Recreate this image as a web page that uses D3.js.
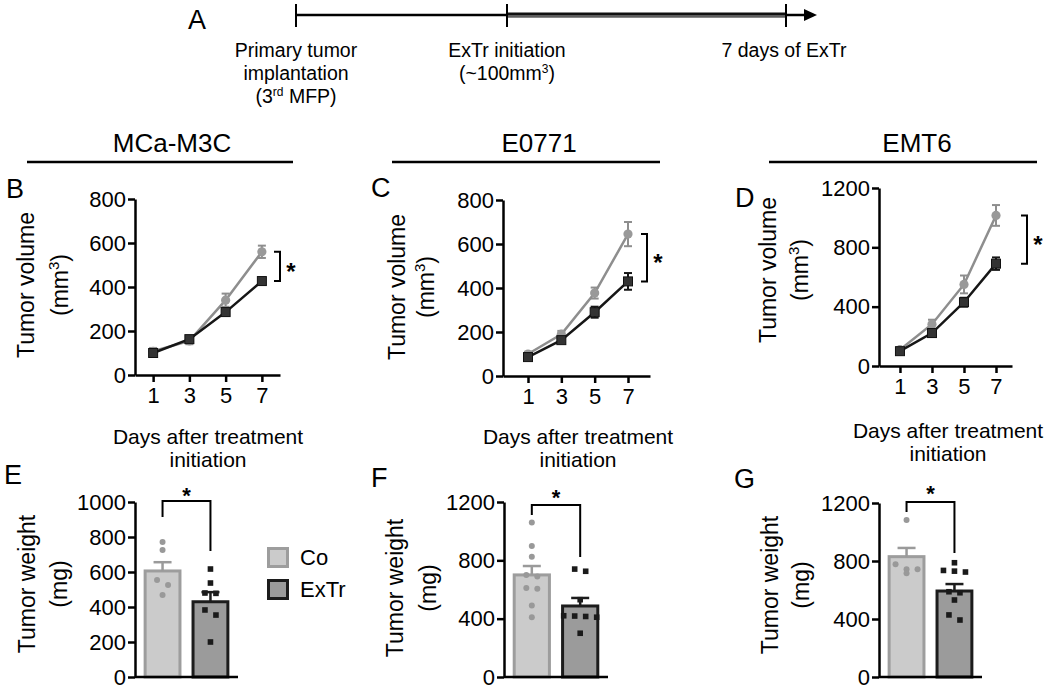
<!DOCTYPE html>
<html><head><meta charset="utf-8">
<script src="https://cdn.jsdelivr.net/npm/d3@7"></script>
<style>
body{margin:0;background:#fff}
svg{display:block;font-family:"Liberation Sans",Arial,sans-serif}
</style></head><body>
<svg id="fig" width="1050" height="691"></svg>
<script>
// ---------------- DATA ----------------
const days = [1, 3, 5, 7];
const groups = ["Co", "ExTr"];

const m3cCoMean = [108, 155, 340, 560];
const m3cCoSem  = [15, 15, 30, 28];
const m3cExMean = [100, 163, 286, 427];
const m3cExSem  = [8, 10, 15, 15];

const e0771CoMean = [100, 190, 377, 645];
const e0771CoSem  = [10, 15, 25, 55];
const e0771ExMean = [86, 163, 290, 430];
const e0771ExSem  = [8, 12, 25, 38];

const emt6CoMean = [110, 282, 550, 1015];
const emt6CoSem  = [15, 30, 60, 70];
const emt6ExMean = [100, 222, 430, 690];
const emt6ExSem  = [12, 25, 30, 42];

const m3cWeightMean = [606, 430];
const m3cWeightSem  = [50, 55];
const m3cCoPts = [771, 726, 554, 526, 469];
const m3cExPts = [617, 537, 480, 478, 383, 354, 200];

const e0771WeightMean = [700, 487];
const e0771WeightSem  = [61, 55];
const e0771CoPts = [1060, 898, 825, 700, 690, 610, 605, 490, 410];
const e0771ExPts = [740, 725, 530, 420, 418, 415, 410, 300];

const emt6WeightMean = [830, 593];
const emt6WeightSem  = [60, 48];
const emt6CoPts = [1083, 777, 743, 743, 715];
const emt6ExPts = [788, 735, 730, 724, 588, 581, 531, 428, 393];

const volTicks800  = [0, 200, 400, 600, 800];
const volTicks1200 = [0, 400, 800, 1200];
const wTicks1000   = [0, 200, 400, 600, 800, 1000];
const wTicks1200   = [0, 400, 800, 1200];

const cellLines = ["MCa-M3C", "E0771", "EMT6"];

// ---------------- DRAW ----------------
const FONT = '"Liberation Sans", Arial, sans-serif';
const svg = d3.select('#fig');
const GRAY = '#8e8e8e', BLACK = '#161616';

function txt(x, y, s, size, opts = {}) {
  return svg.append('text').attr('x', x).attr('y', y).text(s)
    .attr('font-size', size).attr('font-family', FONT)
    .attr('text-anchor', opts.anchor || 'middle')
    .attr('font-weight', opts.weight || 'normal').attr('fill', '#000');
}

// ---- Panel A: timeline ----
txt(188, 29, 'A', 27, {anchor: 'start'});
svg.append('line').attr('x1', 296).attr('x2', 507).attr('y1', 15).attr('y2', 15)
  .attr('stroke', '#000').attr('stroke-width', 2.5);
svg.append('line').attr('x1', 507).attr('x2', 786).attr('y1', 15).attr('y2', 15)
  .attr('stroke', '#111').attr('stroke-width', 5);
svg.append('line').attr('x1', 507).attr('x2', 786).attr('y1', 16).attr('y2', 16)
  .attr('stroke', '#777').attr('stroke-width', 1.5);
svg.append('line').attr('x1', 786).attr('x2', 806).attr('y1', 15).attr('y2', 15)
  .attr('stroke', '#000').attr('stroke-width', 2.5);
svg.append('path').attr('d', 'M804,9 L817,15 L804,21 Z').attr('fill', '#000');
[296, 507, 786].forEach(x => svg.append('line').attr('x1', x).attr('x2', x)
  .attr('y1', 4).attr('y2', 27).attr('stroke', '#000').attr('stroke-width', 2));
txt(296, 57, 'Primary tumor', 19.5);
txt(296, 80, 'implantation', 19.5);
{
  const t = txt(296, 103, '(3', 19.5);
  t.append('tspan').attr('dy', -7).attr('font-size', 12).text('rd');
  t.append('tspan').attr('dy', 7).text(' MFP)');
}
txt(507, 57, 'ExTr initiation', 19.5);
{
  const t = txt(507, 80, '(~100mm', 19.5);
  t.append('tspan').attr('dy', -7).attr('font-size', 12).text('3');
  t.append('tspan').attr('dy', 7).text(')');
}
txt(784, 57, '7 days of ExTr', 19.5);

// ---- Cell line titles ----
const titleLayout = [
  {cx: 172, l0: 27, l1: 293},
  {cx: 539, l0: 392, l1: 660},
  {cx: 917, l0: 769, l1: 1037}
];
cellLines.forEach((name, i) => {
  const L = titleLayout[i];
  txt(L.cx, 152, name, 26);
  svg.append('line').attr('x1', L.l0).attr('x2', L.l1).attr('y1', 162).attr('y2', 162)
    .attr('stroke', '#000').attr('stroke-width', 2.5);
});

function styleAxis(g) {
  g.attr('font-family', FONT).attr('font-size', 22);
  g.selectAll('path, line').attr('stroke', '#000').attr('stroke-width', 2.5);
  g.selectAll('text').attr('fill', '#000').attr('font-size', 22).attr('font-family', FONT);
}

function yTitle(xb1, xb2, cy, line1, line2, sup) {
  svg.append('text').attr('transform', `translate(${xb1},${cy}) rotate(-90)`)
    .attr('text-anchor', 'middle').attr('font-size', 23).attr('font-family', FONT).text(line1);
  const t = svg.append('text').attr('transform', `translate(${xb2},${cy}) rotate(-90)`)
    .attr('text-anchor', 'middle').attr('font-size', 23).attr('font-family', FONT);
  if (sup) {
    t.append('tspan').text('(mm');
    t.append('tspan').attr('dy', -9).attr('font-size', 15).text('3');
    t.append('tspan').attr('dy', 9).text(')');
  } else t.text(line2);
}

function star(x, cy, size) {
  svg.append('text').attr('x', x).attr('y', cy + size * 0.57).attr('text-anchor', 'middle')
    .attr('font-size', size).attr('font-weight', 'bold').attr('font-family', FONT).text('*');
}

// ---- Line charts ----
function lineChart(c) {
  const x = d3.scaleLinear().domain(c.xDomain).range([c.x0, c.x1]);
  const y = d3.scaleLinear().domain([0, c.yMax]).range([c.y0, c.y1]);
  const gy = svg.append('g').attr('transform', `translate(${c.x0},0)`)
    .call(d3.axisLeft(y).tickValues(c.yTicks).tickSize(7).tickSizeOuter(0).tickPadding(2).tickFormat(d3.format('d')));
  styleAxis(gy);
  const gx = svg.append('g').attr('transform', `translate(0,${c.y0})`)
    .call(d3.axisBottom(x).tickValues(days).tickSize(7).tickSizeOuter(0).tickPadding(4).tickFormat(d3.format('d')));
  styleAxis(gx);
  gx.selectAll('text').attr('dy', '0.75em');

  const series = [
    {mean: c.coMean, sem: c.coSem, color: GRAY, marker: 'circle'},
    {mean: c.exMean, sem: c.exSem, color: BLACK, marker: 'square'}
  ];
  const line = d3.line().x(d => x(d.day)).y(d => y(d.v));
  series.forEach(s => {
    const pts = days.map((d, i) => ({day: d, v: s.mean[i], e: s.sem[i]}));
    svg.append('path').datum(pts).attr('d', line).attr('fill', 'none')
      .attr('stroke', s.color).attr('stroke-width', 2.5);
    const g = svg.append('g');
    pts.forEach(p => {
      const cx = x(p.day), yt = y(p.v + p.e), yb = y(Math.max(0, p.v - p.e));
      g.append('line').attr('x1', cx).attr('x2', cx).attr('y1', yt).attr('y2', yb)
        .attr('stroke', s.color).attr('stroke-width', 2);
      [yt, yb].forEach(yy => g.append('line').attr('x1', cx - 4).attr('x2', cx + 4)
        .attr('y1', yy).attr('y2', yy).attr('stroke', s.color).attr('stroke-width', 2));
      if (s.marker === 'circle') {
        g.append('circle').attr('cx', cx).attr('cy', y(p.v)).attr('r', 4.6).attr('fill', '#999');
      } else {
        g.append('rect').attr('x', cx - 4.5).attr('y', y(p.v) - 4.5).attr('width', 9).attr('height', 9)
          .attr('fill', '#333').attr('stroke', '#111').attr('stroke-width', 1);
      }
    });
  });
  // significance bracket
  const yt = y(c.coMean[3]), yb = y(c.exMean[3]);
  svg.append('path').attr('d', `M${c.bx - 6},${yt} H${c.bx} V${yb} H${c.bx - 6}`)
    .attr('fill', 'none').attr('stroke', '#000').attr('stroke-width', 2);
  star(c.bx + 11, (yt + yb) / 2, 24);

  txt(c.xtx, c.xty, 'Days after treatment', 21);
  txt(c.xtx, c.xty + 23, 'initiation', 21);
  yTitle(c.yb1, c.yb2, c.ycy, 'Tumor volume', null, true);
  txt(c.lx, c.ly, c.letter, 27, {anchor: 'start'});
}

lineChart({letter: 'B', lx: 6, ly: 198, x0: 135, x1: 280, xDomain: [0, 8], y0: 375, y1: 199, yMax: 800,
  yTicks: volTicks800, coMean: m3cCoMean, coSem: m3cCoSem, exMean: m3cExMean, exSem: m3cExSem,
  bx: 280, xtx: 208, xty: 444, yb1: 34, yb2: 68, ycy: 285});
lineChart({letter: 'C', lx: 371, ly: 197, x0: 503, x1: 650, xDomain: [-0.5, 8.32], y0: 376, y1: 200, yMax: 800,
  yTicks: volTicks800, coMean: e0771CoMean, coSem: e0771CoSem, exMean: e0771ExMean, exSem: e0771ExSem,
  bx: 647, xtx: 578, xty: 444, yb1: 405, yb2: 434, ycy: 287});
lineChart({letter: 'D', lx: 735, ly: 207, x0: 879, x1: 1012, xDomain: [-0.31, 8], y0: 366, y1: 188, yMax: 1200,
  yTicks: volTicks1200, coMean: emt6CoMean, coSem: emt6CoSem, exMean: emt6ExMean, exSem: emt6ExSem,
  bx: 1027, xtx: 948, xty: 438, yb1: 776, yb2: 808, ycy: 270});

// ---- Bar charts ----
function spread(values, y, thr, step) {
  // group points whose screen y lies within thr of the group's first point; spread symmetric
  const idx = values.map((v, i) => ({v, i})).sort((a, b) => b.v - a.v);
  const out = new Array(values.length);
  let grp = [];
  const flush = () => {
    grp.forEach((p, k) => out[p.i] = {v: p.v, dx: (k - (grp.length - 1) / 2) * step});
    grp = [];
  };
  idx.forEach(p => {
    if (grp.length && Math.abs(y(p.v) - y(grp[0].v)) > thr) flush();
    grp.push(p);
  });
  flush();
  return out;
}

function barChart(c) {
  const x = d3.scaleBand().domain(groups).range([c.x0, c.x1]).paddingInner(0.21).paddingOuter(0.18);
  const y = d3.scaleLinear().domain([0, c.yMax]).range([c.y0, c.y1]);
  const bw = x.bandwidth();
  const fills = ['#cbcbcb', '#9b9b9b'], strokes = ['#9d9d9d', '#1c1c1c'];
  groups.forEach((gname, i) => {
    svg.append('rect').attr('x', x(gname) + 1.5).attr('width', bw - 3)
      .attr('y', y(c.mean[i])).attr('height', y(0) - y(c.mean[i]))
      .attr('fill', fills[i]).attr('stroke', strokes[i]).attr('stroke-width', 3);
  });
  const cxs = groups.map(g => x(g) + bw / 2);
  spread(c.coPts, y, 6, 11).forEach(p => svg.append('circle')
    .attr('cx', cxs[0] + p.dx).attr('cy', y(p.v)).attr('r', 3).attr('fill', '#999'));
  spread(c.exPts, y, 6, 11).forEach(p => svg.append('rect')
    .attr('x', cxs[1] + p.dx - 2.8).attr('y', y(p.v) - 2.8).attr('width', 5.6).attr('height', 5.6)
    .attr('fill', '#1a1a1a'));
  groups.forEach((gname, i) => {
    const cx = cxs[i], yt = y(c.mean[i] + c.sem[i]);
    const col = i === 0 ? '#9a9a9a' : '#1c1c1c';
    svg.append('line').attr('x1', cx).attr('x2', cx).attr('y1', y(c.mean[i])).attr('y2', yt)
      .attr('stroke', col).attr('stroke-width', 2.5);
    svg.append('line').attr('x1', cx - 9).attr('x2', cx + 9).attr('y1', yt).attr('y2', yt)
      .attr('stroke', col).attr('stroke-width', 2.5);
  });
  const gy = svg.append('g').attr('transform', `translate(${c.x0},0)`)
    .call(d3.axisLeft(y).tickValues(c.yTicks).tickSize(7).tickSizeOuter(0).tickPadding(2).tickFormat(d3.format('d')));
  styleAxis(gy);
  svg.append('line').attr('x1', c.x0).attr('x2', c.x1).attr('y1', c.y0).attr('y2', c.y0)
    .attr('stroke', '#000').attr('stroke-width', 2.5);
  // bracket
  svg.append('path').attr('d', `M${cxs[0]},${c.bl} V${c.bt} H${cxs[1]} V${c.br}`)
    .attr('fill', 'none').attr('stroke', '#000').attr('stroke-width', 2);
  star((cxs[0] + cxs[1]) / 2, c.sy, 22);
  yTitle(c.yb1, c.yb2, c.ycy, 'Tumor weight', '(mg)', false);
  txt(c.lx, c.ly, c.letter, 27, {anchor: 'start'});
}

barChart({letter: 'E', lx: 4, ly: 484, x0: 135, x1: 238, y0: 677, y1: 502, yMax: 1000, yTicks: wTicks1000,
  mean: m3cWeightMean, sem: m3cWeightSem, coPts: m3cCoPts, exPts: m3cExPts,
  bt: 501, bl: 517, br: 551, sy: 490, yb1: 35, yb2: 67, ycy: 584});
barChart({letter: 'F', lx: 371, ly: 487, x0: 504, x1: 608, y0: 677, y1: 502, yMax: 1200, yTicks: wTicks1200,
  mean: e0771WeightMean, sem: e0771WeightSem, coPts: e0771CoPts, exPts: e0771ExPts,
  bt: 505, bl: 515, br: 557, sy: 492, yb1: 403, yb2: 436, ycy: 588});
barChart({letter: 'G', lx: 734, ly: 488, x0: 879, x1: 982, y0: 677, y1: 503, yMax: 1200, yTicks: wTicks1200,
  mean: emt6WeightMean, sem: emt6WeightSem, coPts: emt6CoPts, exPts: emt6ExPts,
  bt: 502, bl: 512, br: 553, sy: 488, yb1: 778, yb2: 809, ycy: 585});

// ---- Legend ----
const legY = [547, 579];
groups.forEach((gname, i) => {
  svg.append('rect').attr('x', 268.5).attr('y', legY[i] + 1.5).attr('width', 19).attr('height', 18)
    .attr('fill', i === 0 ? '#cbcbcb' : '#9b9b9b').attr('stroke', i === 0 ? '#9d9d9d' : '#1c1c1c')
    .attr('stroke-width', 3);
  txt(300, legY[i] + 18, gname, 22, {anchor: 'start'});
});
</script></body></html>
